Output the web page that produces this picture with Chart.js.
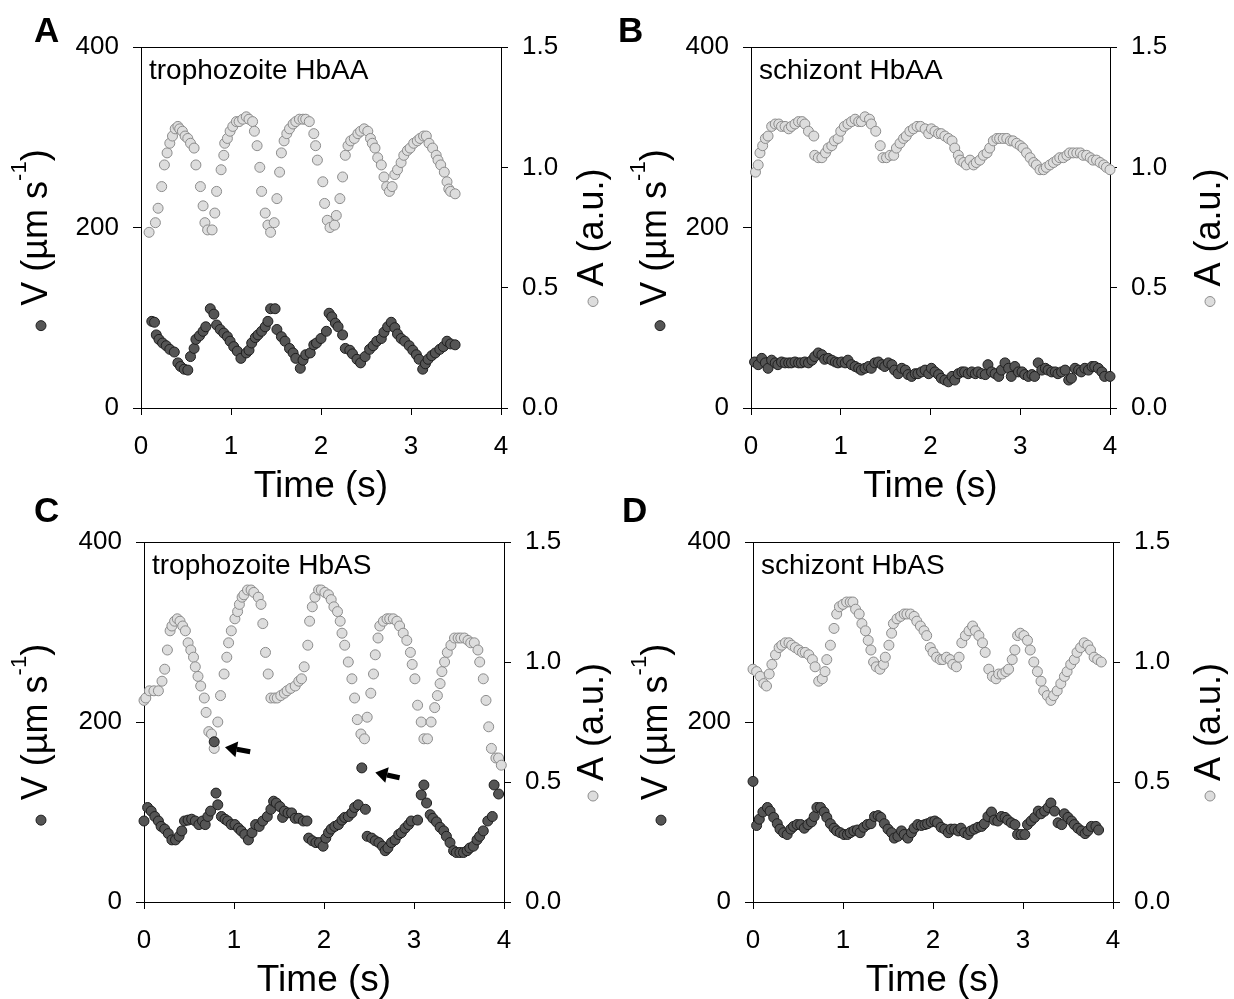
<!DOCTYPE html>
<html>
<head>
<meta charset="utf-8">
<script src="https://cdn.jsdelivr.net/npm/chart.js@4.4.1/dist/chart.umd.min.js"></script>
<style>
  body { margin: 0; background: #fff; }
  #wrap { position: relative; width: 1234px; height: 999px; }
  #wrap canvas { position: absolute; }
</style>
</head>
<body>
<div id="wrap">
  <canvas id="panelA" width="617" height="512" style="left:0px;top:0px"></canvas>
  <canvas id="panelB" width="617" height="512" style="left:617px;top:0px"></canvas>
  <canvas id="panelC" width="617" height="505" style="left:0px;top:494px"></canvas>
  <canvas id="panelD" width="617" height="505" style="left:617px;top:494px"></canvas>
</div>
<script>
// ---- data: [time (s), value] ----
const panelLetters = ["A", "B", "C", "D"];
const panelNames = ["trophozoite HbAA", "schizont HbAA", "trophozoite HbAS", "schizont HbAS"];

// V (µm/s), dark markers
const trophAA_V = [[0.12,96],[0.15,95],[0.17,81],[0.20,76],[0.24,72],[0.28,69],[0.32,65],[0.37,62],[0.41,50],[0.44,46],[0.48,43],[0.52,42],[0.55,57],[0.59,66],[0.61,76],[0.65,80],[0.69,85],[0.72,90],[0.77,110],[0.81,104],[0.84,92],[0.88,87],[0.92,83],[0.96,79],[0.99,74],[1.03,68],[1.07,63],[1.11,55],[1.17,61],[1.20,64],[1.23,72],[1.27,78],[1.30,81],[1.34,85],[1.38,90],[1.41,96],[1.44,110],[1.49,110],[1.51,87],[1.56,79],[1.60,74],[1.65,66],[1.69,61],[1.72,55],[1.77,44],[1.80,53],[1.83,59],[1.88,61],[1.92,70],[1.95,72],[2.00,77],[2.06,85],[2.09,105],[2.12,101],[2.16,94],[2.19,90],[2.24,81],[2.27,66],[2.32,64],[2.35,60],[2.40,54],[2.44,50],[2.49,57],[2.54,65],[2.58,69],[2.62,74],[2.67,77],[2.70,84],[2.74,90],[2.78,95],[2.82,89],[2.85,82],[2.89,77],[2.93,74],[2.98,69],[3.02,64],[3.06,59],[3.09,54],[3.13,43],[3.16,49],[3.19,54],[3.23,58],[3.27,61],[3.32,65],[3.36,68],[3.40,74],[3.44,71],[3.49,70]];
const schizAA_V = [[0.04,51],[0.08,48],[0.12,55],[0.16,50],[0.19,44],[0.23,53],[0.27,50],[0.30,48],[0.34,51],[0.38,50],[0.42,50],[0.45,50],[0.49,51],[0.53,50],[0.56,50],[0.60,51],[0.64,50],[0.68,53],[0.71,57],[0.75,61],[0.79,59],[0.82,54],[0.86,55],[0.90,53],[0.94,51],[0.97,50],[1.01,51],[1.05,50],[1.08,53],[1.12,48],[1.16,46],[1.20,44],[1.23,42],[1.27,44],[1.31,46],[1.34,44],[1.38,50],[1.42,51],[1.46,48],[1.49,46],[1.53,50],[1.57,48],[1.60,42],[1.64,38],[1.68,44],[1.72,42],[1.75,37],[1.79,35],[1.83,38],[1.86,38],[1.90,40],[1.94,42],[1.98,38],[2.01,44],[2.05,40],[2.09,37],[2.12,33],[2.16,31],[2.20,29],[2.24,35],[2.27,31],[2.31,38],[2.35,40],[2.38,40],[2.42,38],[2.46,40],[2.50,38],[2.53,40],[2.57,38],[2.61,37],[2.64,48],[2.68,40],[2.72,38],[2.76,35],[2.79,42],[2.83,50],[2.87,44],[2.90,35],[2.94,46],[2.98,40],[3.02,40],[3.05,37],[3.09,35],[3.13,37],[3.16,35],[3.20,50],[3.24,42],[3.28,44],[3.31,42],[3.35,40],[3.39,40],[3.42,38],[3.46,40],[3.50,42],[3.54,31],[3.57,33],[3.61,44],[3.65,42],[3.68,40],[3.72,44],[3.76,42],[3.80,46],[3.83,46],[3.87,44],[3.91,40],[3.94,35],[4.00,35]];
const trophAS_V = [[0.00,90],[0.04,105],[0.08,101],[0.12,95],[0.16,90],[0.19,84],[0.23,81],[0.27,76],[0.31,69],[0.35,69],[0.39,73],[0.42,79],[0.45,90],[0.49,91],[0.53,92],[0.57,90],[0.61,86],[0.65,90],[0.68,86],[0.71,95],[0.74,101],[0.78,178],[0.80,121],[0.82,108],[0.86,95],[0.90,92],[0.93,90],[0.97,86],[1.01,86],[1.05,82],[1.08,79],[1.12,75],[1.16,69],[1.20,77],[1.24,86],[1.28,84],[1.32,90],[1.37,95],[1.41,103],[1.44,112],[1.47,110],[1.51,106],[1.54,94],[1.56,101],[1.60,99],[1.64,99],[1.68,93],[1.72,93],[1.77,90],[1.81,90],[1.83,71],[1.87,68],[1.91,66],[1.95,66],[1.99,62],[2.02,71],[2.05,77],[2.08,81],[2.12,84],[2.16,86],[2.20,91],[2.23,94],[2.27,95],[2.31,99],[2.34,105],[2.38,108],[2.42,149],[2.46,103],[2.48,73],[2.53,71],[2.57,68],[2.61,66],[2.65,62],[2.68,57],[2.71,60],[2.75,66],[2.79,69],[2.83,75],[2.86,77],[2.90,82],[2.94,86],[2.97,90],[3.04,91],[3.08,119],[3.11,130],[3.14,110],[3.18,97],[3.21,93],[3.25,89],[3.29,83],[3.33,79],[3.36,73],[3.40,66],[3.44,57],[3.47,55],[3.51,55],[3.55,55],[3.59,57],[3.62,60],[3.66,62],[3.70,69],[3.73,73],[3.77,79],[3.82,90],[3.87,95],[3.89,130],[3.94,120]];
const schizAS_V = [[0.00,134],[0.04,85],[0.07,92],[0.11,100],[0.16,105],[0.19,101],[0.23,94],[0.27,87],[0.30,81],[0.34,77],[0.38,75],[0.42,81],[0.45,84],[0.49,86],[0.53,86],[0.57,82],[0.61,86],[0.65,89],[0.68,95],[0.71,105],[0.75,105],[0.79,100],[0.82,94],[0.86,87],[0.90,82],[0.93,79],[0.97,77],[1.01,75],[1.05,75],[1.08,77],[1.12,79],[1.16,80],[1.19,77],[1.23,83],[1.27,86],[1.31,87],[1.35,95],[1.39,96],[1.42,94],[1.46,87],[1.50,81],[1.54,77],[1.57,71],[1.61,73],[1.65,79],[1.68,75],[1.72,71],[1.76,77],[1.79,82],[1.83,86],[1.87,85],[1.91,86],[1.94,87],[1.98,89],[2.02,90],[2.05,88],[2.09,83],[2.13,81],[2.17,77],[2.20,81],[2.24,81],[2.28,79],[2.31,82],[2.35,77],[2.39,75],[2.42,79],[2.46,81],[2.50,83],[2.54,84],[2.57,87],[2.61,95],[2.65,100],[2.68,91],[2.72,90],[2.76,95],[2.80,94],[2.83,91],[2.87,88],[2.91,86],[2.94,75],[2.98,75],[3.02,75],[3.05,86],[3.09,90],[3.13,94],[3.17,101],[3.20,98],[3.24,101],[3.28,105],[3.31,110],[3.35,101],[3.39,88],[3.43,86],[3.46,98],[3.50,94],[3.54,90],[3.57,86],[3.61,82],[3.65,79],[3.69,76],[3.72,79],[3.76,84],[3.81,84],[3.84,80]];

// A (a.u.), light markers
const trophAA_A = [[0.09,0.73],[0.16,0.77],[0.19,0.83],[0.23,0.92],[0.26,1.01],[0.29,1.06],[0.32,1.10],[0.35,1.13],[0.38,1.16],[0.41,1.17],[0.43,1.16],[0.46,1.15],[0.49,1.13],[0.52,1.12],[0.55,1.10],[0.59,1.08],[0.61,1.01],[0.66,0.92],[0.69,0.84],[0.71,0.77],[0.74,0.74],[0.79,0.74],[0.82,0.81],[0.84,0.90],[0.89,0.99],[0.92,1.05],[0.93,1.10],[0.96,1.12],[0.99,1.15],[1.02,1.17],[1.06,1.19],[1.09,1.19],[1.13,1.20],[1.17,1.21],[1.20,1.20],[1.24,1.19],[1.26,1.15],[1.29,1.09],[1.32,1.00],[1.34,0.90],[1.38,0.81],[1.41,0.76],[1.44,0.73],[1.48,0.77],[1.51,0.87],[1.54,0.98],[1.56,1.06],[1.59,1.11],[1.62,1.14],[1.65,1.16],[1.69,1.18],[1.72,1.19],[1.76,1.20],[1.80,1.20],[1.83,1.20],[1.87,1.19],[1.92,1.14],[1.94,1.09],[1.96,1.03],[2.02,0.94],[2.04,0.85],[2.07,0.78],[2.10,0.75],[2.15,0.76],[2.17,0.80],[2.21,0.87],[2.24,0.96],[2.27,1.05],[2.30,1.09],[2.33,1.11],[2.37,1.12],[2.41,1.14],[2.44,1.15],[2.48,1.16],[2.52,1.15],[2.55,1.12],[2.57,1.10],[2.60,1.08],[2.63,1.04],[2.67,1.01],[2.70,0.96],[2.73,0.92],[2.76,0.90],[2.79,0.92],[2.82,0.97],[2.85,0.99],[2.89,1.02],[2.92,1.05],[2.96,1.07],[2.99,1.08],[3.03,1.10],[3.07,1.11],[3.10,1.12],[3.14,1.13],[3.17,1.13],[3.20,1.10],[3.24,1.08],[3.28,1.05],[3.30,1.03],[3.33,1.01],[3.37,0.98],[3.40,0.94],[3.42,0.91],[3.44,0.90],[3.49,0.89]];
const schizAA_A = [[0.05,0.98],[0.08,1.01],[0.10,1.06],[0.13,1.09],[0.16,1.12],[0.19,1.13],[0.23,1.17],[0.27,1.18],[0.31,1.18],[0.34,1.17],[0.38,1.17],[0.42,1.16],[0.45,1.17],[0.49,1.18],[0.53,1.19],[0.57,1.19],[0.60,1.18],[0.64,1.15],[0.70,1.13],[0.71,1.05],[0.75,1.04],[0.79,1.04],[0.83,1.06],[0.86,1.08],[0.90,1.09],[0.93,1.11],[0.97,1.12],[1.00,1.15],[1.04,1.17],[1.08,1.18],[1.12,1.19],[1.16,1.20],[1.20,1.19],[1.23,1.19],[1.27,1.21],[1.32,1.20],[1.34,1.18],[1.39,1.15],[1.44,1.09],[1.47,1.04],[1.51,1.04],[1.55,1.05],[1.59,1.05],[1.62,1.08],[1.66,1.10],[1.70,1.12],[1.73,1.13],[1.77,1.15],[1.81,1.16],[1.85,1.17],[1.89,1.17],[1.94,1.16],[1.98,1.14],[2.01,1.16],[2.05,1.15],[2.09,1.14],[2.12,1.14],[2.16,1.13],[2.20,1.12],[2.24,1.11],[2.27,1.08],[2.31,1.05],[2.33,1.03],[2.37,1.02],[2.40,1.01],[2.44,1.03],[2.48,1.01],[2.51,1.02],[2.55,1.03],[2.59,1.05],[2.63,1.06],[2.66,1.08],[2.70,1.11],[2.74,1.12],[2.77,1.12],[2.81,1.12],[2.85,1.12],[2.89,1.11],[2.92,1.11],[2.96,1.10],[3.00,1.09],[3.03,1.08],[3.07,1.06],[3.11,1.04],[3.15,1.02],[3.18,1.01],[3.22,0.99],[3.26,0.99],[3.29,1.00],[3.33,1.01],[3.37,1.02],[3.41,1.03],[3.44,1.04],[3.48,1.04],[3.52,1.05],[3.55,1.06],[3.59,1.06],[3.63,1.06],[3.67,1.06],[3.70,1.05],[3.74,1.05],[3.78,1.04],[3.81,1.03],[3.85,1.03],[3.89,1.02],[3.93,1.01],[3.96,1.00],[4.00,0.99]];
const trophAS_A = [[0.00,0.84],[0.02,0.85],[0.06,0.88],[0.11,0.88],[0.16,0.88],[0.20,0.92],[0.23,0.97],[0.26,1.05],[0.29,1.13],[0.31,1.15],[0.34,1.17],[0.37,1.18],[0.40,1.17],[0.43,1.15],[0.46,1.13],[0.49,1.08],[0.52,1.05],[0.55,1.02],[0.57,0.98],[0.60,0.94],[0.63,0.90],[0.67,0.85],[0.69,0.79],[0.72,0.71],[0.75,0.70],[0.78,0.64],[0.82,0.75],[0.85,0.86],[0.89,0.95],[0.92,1.02],[0.94,1.08],[0.97,1.13],[1.01,1.18],[1.04,1.21],[1.06,1.24],[1.09,1.27],[1.11,1.28],[1.15,1.30],[1.19,1.30],[1.22,1.29],[1.27,1.27],[1.30,1.24],[1.32,1.16],[1.35,1.04],[1.38,0.95],[1.41,0.85],[1.45,0.85],[1.48,0.85],[1.52,0.86],[1.56,0.87],[1.59,0.88],[1.63,0.89],[1.68,0.90],[1.72,0.92],[1.75,0.93],[1.78,0.98],[1.82,1.07],[1.84,1.17],[1.87,1.23],[1.90,1.27],[1.94,1.30],[1.97,1.30],[2.01,1.29],[2.05,1.28],[2.08,1.26],[2.11,1.23],[2.15,1.21],[2.18,1.17],[2.20,1.12],[2.23,1.07],[2.27,1.00],[2.31,0.93],[2.34,0.85],[2.37,0.76],[2.41,0.70],[2.45,0.68],[2.48,0.77],[2.52,0.87],[2.55,0.95],[2.57,1.03],[2.60,1.10],[2.62,1.15],[2.66,1.17],[2.70,1.18],[2.73,1.18],[2.77,1.18],[2.81,1.17],[2.84,1.15],[2.88,1.12],[2.92,1.09],[2.96,1.04],[2.98,0.99],[3.01,0.93],[3.04,0.82],[3.08,0.75],[3.11,0.68],[3.15,0.68],[3.19,0.75],[3.23,0.81],[3.26,0.86],[3.29,0.91],[3.31,0.96],[3.34,1.00],[3.37,1.04],[3.41,1.07],[3.45,1.10],[3.49,1.10],[3.52,1.10],[3.56,1.10],[3.60,1.09],[3.63,1.08],[3.67,1.08],[3.71,1.05],[3.73,1.00],[3.77,0.93],[3.80,0.84],[3.83,0.73],[3.86,0.64],[3.91,0.60],[3.94,0.60],[3.97,0.57]];
const schizAS_A = [[0.00,0.97],[0.04,0.96],[0.08,0.94],[0.12,0.91],[0.15,0.90],[0.18,0.95],[0.21,0.99],[0.25,1.03],[0.29,1.06],[0.32,1.07],[0.36,1.08],[0.40,1.08],[0.43,1.07],[0.47,1.06],[0.51,1.05],[0.55,1.04],[0.58,1.04],[0.62,1.03],[0.66,1.01],[0.69,0.98],[0.73,0.92],[0.77,0.93],[0.80,0.96],[0.82,1.01],[0.86,1.07],[0.90,1.14],[0.93,1.20],[0.96,1.23],[1.00,1.24],[1.04,1.25],[1.08,1.25],[1.11,1.25],[1.14,1.22],[1.18,1.20],[1.21,1.16],[1.25,1.13],[1.28,1.09],[1.31,1.05],[1.34,1.00],[1.37,0.98],[1.41,0.97],[1.45,0.99],[1.47,1.02],[1.51,1.07],[1.54,1.12],[1.56,1.16],[1.60,1.18],[1.64,1.19],[1.68,1.20],[1.71,1.20],[1.75,1.20],[1.79,1.19],[1.82,1.17],[1.86,1.15],[1.90,1.13],[1.93,1.11],[1.97,1.06],[2.00,1.04],[2.04,1.02],[2.08,1.01],[2.11,1.01],[2.15,1.02],[2.19,1.01],[2.22,0.99],[2.26,0.98],[2.29,1.02],[2.32,1.08],[2.36,1.11],[2.40,1.13],[2.44,1.15],[2.47,1.13],[2.51,1.11],[2.55,1.08],[2.58,1.04],[2.62,0.97],[2.66,0.94],[2.70,0.93],[2.73,0.95],[2.77,0.95],[2.81,0.96],[2.84,0.97],[2.88,1.01],[2.91,1.05],[2.94,1.11],[2.97,1.12],[3.01,1.11],[3.05,1.09],[3.08,1.05],[3.12,1.00],[3.16,0.96],[3.20,0.92],[3.23,0.88],[3.27,0.86],[3.31,0.84],[3.34,0.86],[3.38,0.88],[3.42,0.91],[3.46,0.94],[3.49,0.96],[3.53,0.99],[3.57,1.01],[3.60,1.04],[3.64,1.06],[3.68,1.08],[3.72,1.07],[3.75,1.05],[3.79,1.02],[3.83,1.01],[3.87,1.00]];

// arrows in panel C: [tip time, tip V, tail time, tail V]
const trophAS_arrows = [[0.90,172,1.18,167],[2.57,144,2.84,138]];

const vTitle = ["V (µm s", "-1", ")"];
const aTitle = "A (a.u.)";
const xTitle = "Time (s)";

// ---- styling ----
const FONT = '"Liberation Sans", Arial, sans-serif';
const darkFill = "#555555", darkEdge = "#1e1e1e";
const lightFill = "#dddddd", lightEdge = "#8c8c8c";

function drawDot(ctx, x, y, fill, edge) {
  ctx.beginPath();
  ctx.arc(x, y, 5, 0, Math.PI * 2);
  ctx.fillStyle = fill;
  ctx.fill();
  ctx.lineWidth = 1;
  ctx.strokeStyle = edge;
  ctx.stroke();
}

const panelDecor = {
  id: "panelDecor",
  beforeDatasetsDraw(chart, args, o) {
    const ctx = chart.ctx, a = chart.chartArea;
    ctx.save();
    ctx.strokeStyle = "#000";
    ctx.lineWidth = 1;
    ctx.strokeRect(Math.round(a.left) + 0.5, Math.round(a.top) + 0.5,
      Math.round(a.right - a.left), Math.round(a.bottom - a.top));
    ctx.restore();
  },
  afterDatasetsDraw(chart, args, o) {
    if (!o.arrows) return;
    const ctx = chart.ctx, xs = chart.scales.x, ys = chart.scales.y;
    ctx.save();
    ctx.fillStyle = "#000";
    ctx.strokeStyle = "#000";
    o.arrows.forEach(ar => {
      const x1 = xs.getPixelForValue(ar[0]), y1 = ys.getPixelForValue(ar[1]);
      const x0 = xs.getPixelForValue(ar[2]), y0 = ys.getPixelForValue(ar[3]);
      const ang = Math.atan2(y1 - y0, x1 - x0);
      const hl = 12, hw = 8;
      const bx = x1 - hl * Math.cos(ang), by = y1 - hl * Math.sin(ang);
      ctx.lineWidth = 5;
      ctx.beginPath();
      ctx.moveTo(x0, y0);
      ctx.lineTo(bx, by);
      ctx.stroke();
      ctx.beginPath();
      ctx.moveTo(x1, y1);
      ctx.lineTo(bx + hw * Math.sin(ang), by - hw * Math.cos(ang));
      ctx.lineTo(bx - hw * Math.sin(ang), by + hw * Math.cos(ang));
      ctx.closePath();
      ctx.fill();
    });
    ctx.restore();
  },
  afterDraw(chart, args, o) {
    const ctx = chart.ctx, a = chart.chartArea;
    const cy = (a.top + a.bottom) / 2;
    ctx.save();
    ctx.fillStyle = "#000";
    ctx.textBaseline = "alphabetic";

    // panel letter
    ctx.font = "bold 35px " + FONT;
    ctx.textAlign = "left";
    ctx.fillText(o.letter, o.letterX, o.letterY);

    // panel name
    ctx.font = "28px " + FONT;
    ctx.fillText(o.name, a.left + 8, a.top + 32);

    // x title
    ctx.font = "37px " + FONT;
    ctx.textAlign = "center";
    ctx.fillText(xTitle, (a.left + a.right) / 2, a.bottom + 89);

    // left title: dot + V (µm s-1)
    const big = "36px " + FONT, small = "22px " + FONT;
    ctx.font = big;
    const w1 = ctx.measureText(vTitle[0]).width;
    const w3 = ctx.measureText(vTitle[2]).width;
    ctx.font = small;
    const w2 = ctx.measureText(vTitle[1]).width;
    const W = w1 + w2 + w3;
    ctx.save();
    ctx.translate(a.left - o.vOff, cy);
    ctx.rotate(-Math.PI / 2);
    ctx.textAlign = "left";
    let px = -W / 2;
    ctx.font = big; ctx.fillText(vTitle[0], px, 0); px += w1;
    ctx.font = small; ctx.fillText(vTitle[1], px, -21); px += w2;
    ctx.font = big; ctx.fillText(vTitle[2], px, 0);
    drawDot(ctx, -W / 2 - 20, -6, darkFill, darkEdge);
    ctx.restore();

    // right title: dot + A (a.u.)
    ctx.save();
    ctx.font = big;
    const wa = ctx.measureText(aTitle).width;
    ctx.translate(a.right + o.aOff, cy);
    ctx.rotate(-Math.PI / 2);
    ctx.textAlign = "left";
    ctx.fillStyle = "#000";
    ctx.fillText(aTitle, -wa / 2, 0);
    drawDot(ctx, -wa / 2 - 15, -10, lightFill, lightEdge);
    ctx.restore();

    ctx.restore();
  }
};

const tickFont = { family: FONT, size: 26 };

function noPad(s) {
  s.paddingTop = 0; s.paddingBottom = 0; s.paddingLeft = 0; s.paddingRight = 0;
}

function makePanel(id, vData, aData, p) {
  const toPts = arr => arr.map(d => ({ x: d[0], y: d[1] }));
  return new Chart(document.getElementById(id), {
    type: "scatter",
    data: {
      datasets: [
        {
          data: toPts(vData), yAxisID: "y",
          pointRadius: 5, pointBorderWidth: 1,
          pointBackgroundColor: darkFill, pointBorderColor: darkEdge,
          clip: false
        },
        {
          data: toPts(aData), yAxisID: "y2",
          pointRadius: 5, pointBorderWidth: 1,
          pointBackgroundColor: lightFill, pointBorderColor: lightEdge,
          clip: false
        }
      ]
    },
    options: {
      responsive: false,
      animation: false,
      devicePixelRatio: 1,
      events: [],
      layout: { padding: { top: p.top, left: 0, right: 0, bottom: 0 } },
      plugins: {
        legend: { display: false },
        tooltip: { enabled: false },
        panelDecor: p.decor
      },
      scales: {
        x: {
          type: "linear", min: 0, max: 4,
          ticks: { stepSize: 1, font: tickFont, color: "#000", padding: 16, maxRotation: 0 },
          grid: { drawOnChartArea: false, tickLength: 7, color: "#000" },
          border: { color: "#000" },
          afterFit(s) { s.height = p.bottom; noPad(s); }
        },
        y: {
          position: "left", min: 0, max: 400,
          ticks: { stepSize: 200, font: tickFont, color: "#000", padding: 14 },
          grid: { drawOnChartArea: false, tickLength: 8, color: "#000" },
          border: { color: "#000" },
          afterFit(s) { s.width = p.left; noPad(s); }
        },
        y2: {
          position: "right", min: 0, max: 1.5,
          ticks: { stepSize: 0.5, font: tickFont, color: "#000", padding: 14,
                   callback: v => v.toFixed(1) },
          grid: { drawOnChartArea: false, tickLength: 7, color: "#000" },
          border: { color: "#000" },
          afterFit(s) { s.width = p.right; noPad(s); }
        }
      }
    },
    plugins: [panelDecor]
  });
}

makePanel("panelA", trophAA_V, trophAA_A, {
  top: 47, bottom: 104, left: 141, right: 116,
  decor: { letter: panelLetters[0], letterX: 34, letterY: 42, name: panelNames[0], vOff: 94, aOff: 102 }
});
makePanel("panelB", schizAA_V, schizAA_A, {
  top: 47, bottom: 104, left: 134, right: 124,
  decor: { letter: panelLetters[1], letterX: 1, letterY: 42, name: panelNames[1], vOff: 85, aOff: 110 }
});
makePanel("panelC", trophAS_V, trophAS_A, {
  top: 48, bottom: 97, left: 144, right: 113,
  decor: { letter: panelLetters[2], letterX: 34, letterY: 28, name: panelNames[2], vOff: 97, aOff: 99, arrows: trophAS_arrows }
});
makePanel("panelD", schizAS_V, schizAS_A, {
  top: 48, bottom: 97, left: 136, right: 121,
  decor: { letter: panelLetters[3], letterX: 5, letterY: 28, name: panelNames[3], vOff: 86, aOff: 107 }
});
</script>
</body>
</html>
